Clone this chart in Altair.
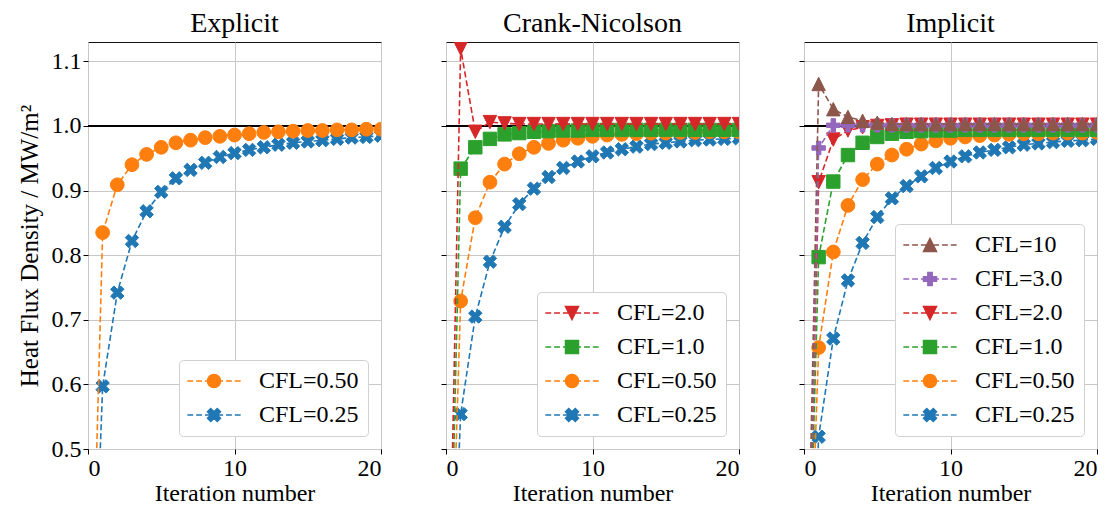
import altair as alt
import pandas as pd

# ---------------- data ----------------
iterations = list(range(21))

explicit_names = ["CFL=0.50", "CFL=0.25"]
exp_cfl050 = [0.0, 0.835, 0.909, 0.940, 0.956, 0.967, 0.974, 0.978, 0.982, 0.984, 0.986,
              0.988, 0.990, 0.991, 0.992, 0.993, 0.993, 0.994, 0.994, 0.995, 0.995]
exp_cfl025 = [0.0, 0.597, 0.742, 0.822, 0.868, 0.898, 0.919, 0.932, 0.943, 0.952, 0.958,
              0.963, 0.967, 0.971, 0.974, 0.976, 0.978, 0.980, 0.982, 0.983, 0.985]

cn_names = ["CFL=2.0", "CFL=1.0", "CFL=0.50", "CFL=0.25"]
cn_cfl20 = [0.0, 1.120, 0.991, 1.006, 1.004, 1.003, 1.003, 1.003, 1.003, 1.003, 1.003,
            1.003, 1.003, 1.003, 1.003, 1.003, 1.003, 1.003, 1.003, 1.003, 1.003]
cn_cfl10 = [0.0, 0.934, 0.967, 0.980, 0.987, 0.989, 0.991, 0.992, 0.993, 0.993, 0.994,
            0.994, 0.994, 0.994, 0.994, 0.994, 0.994, 0.994, 0.994, 0.994, 0.994]
cn_cfl050 = [0.0, 0.729, 0.858, 0.913, 0.941, 0.957, 0.967, 0.973, 0.978, 0.981, 0.984,
             0.986, 0.987, 0.988, 0.989, 0.989, 0.990, 0.990, 0.991, 0.991, 0.991]
cn_cfl025 = [0.0, 0.554, 0.705, 0.790, 0.844, 0.879, 0.903, 0.921, 0.935, 0.945, 0.953,
             0.959, 0.964, 0.968, 0.972, 0.974, 0.976, 0.978, 0.979, 0.980, 0.981]

im_names = ["CFL=10", "CFL=3.0", "CFL=2.0", "CFL=1.0", "CFL=0.50", "CFL=0.25"]
im_cfl100 = [0.0, 1.065, 1.026, 1.014, 1.008, 1.005, 1.003, 1.003, 1.003, 1.003, 1.003,
             1.003, 1.003, 1.003, 1.003, 1.003, 1.003, 1.003, 1.003, 1.003, 1.003]
im_cfl30 = [0.0, 0.966, 1.001, 1.001, 1.001, 1.001, 1.001, 1.001, 1.001, 1.001, 1.001,
            1.001, 1.001, 1.001, 1.001, 1.001, 1.001, 1.001, 1.001, 1.001, 1.001]
im_cfl20 = [0.0, 0.913, 0.979, 0.993, 0.998, 1.000, 1.001, 1.002, 1.002, 1.002, 1.002,
            1.002, 1.002, 1.002, 1.002, 1.002, 1.002, 1.002, 1.002, 1.002, 1.002]
im_cfl10 = [0.0, 0.797, 0.914, 0.955, 0.974, 0.983, 0.988, 0.991, 0.992, 0.993, 0.993,
            0.994, 0.994, 0.994, 0.994, 0.994, 0.994, 0.994, 0.994, 0.994, 0.994]
im_cfl050 = [0.0, 0.657, 0.805, 0.877, 0.917, 0.941, 0.955, 0.964, 0.972, 0.977, 0.981,
             0.983, 0.985, 0.986, 0.987, 0.988, 0.988, 0.989, 0.989, 0.989, 0.990]
im_cfl025 = [0.0, 0.519, 0.671, 0.761, 0.819, 0.859, 0.888, 0.907, 0.922, 0.935, 0.945,
             0.953, 0.959, 0.963, 0.967, 0.971, 0.973, 0.975, 0.977, 0.978, 0.980]

panel_titles = ["Explicit", "Crank-Nicolson", "Implicit"]
reference_level = [1.0]
x_ticks = [0, 10, 20]
y_ticks = [0.5, 0.6, 0.7, 0.8, 0.9, 1.0, 1.1]

# ---------------- styles ----------------
FONT = "Liberation Serif"
colors = {"CFL=10": "#8c564b", "CFL=3.0": "#9467bd", "CFL=2.0": "#d62728",
          "CFL=1.0": "#2ca02c", "CFL=0.50": "#ff7f0e", "CFL=0.25": "#1f77b4"}

markers = {
    "CFL=10": "M0,-1L1,1L-1,1Z",
    "CFL=3.0": "M-0.333,-1L0.333,-1L0.333,-0.333L1,-0.333L1,0.333L0.333,0.333L0.333,1"
               "L-0.333,1L-0.333,0.333L-1,0.333L-1,-0.333L-0.333,-0.333Z",
    "CFL=2.0": "M0,1L1,-1L-1,-1Z",
    "CFL=1.0": "M-1,-1L1,-1L1,1L-1,1Z",
    "CFL=0.50": "circle",
    "CFL=0.25": "M-0.5,-1L0,-0.5L0.5,-1L1,-0.5L0.5,0L1,0.5L0.5,1L0,0.5L-0.5,1L-1,0.5"
                "L-0.5,0L-1,-0.5Z",
}
circle_path = "M1,0A1,1,0,1,1,-1,0A1,1,0,1,1,1,0Z"
dashes = ("M-4.1,0L-3.2,0M-2.75,0L-1.85,0M-1.4,0L-0.6,0"
          "M0.6,0L1.4,0M1.85,0L2.75,0M3.2,0L4.1,0")


def legend_path(name):
    m = markers[name]
    if m == "circle":
        m = circle_path
    return dashes + m


MSIZE = 180
x_scale = alt.Scale(domain=[0, 20], nice=False, zero=False)
y_scale = alt.Scale(domain=[0.5, 1.13], nice=False, zero=False)


def make_panel(title, names, series, first):
    rows = []
    for name, vals in zip(names, series):
        for it, v in zip(iterations, vals):
            rows.append({"iter": it, "val": v, "series": name})
    df = pd.DataFrame(rows)

    x_axis = alt.Axis(values=x_ticks, title="Iteration number")
    y_axis = alt.Axis(values=y_ticks, format=".1f", labels=first,
                      title="Heat Flux Density / MW/m²" if first else None)
    xe = alt.X("iter:Q", scale=x_scale, axis=x_axis)
    ye = alt.Y("val:Q", scale=y_scale, axis=y_axis)

    ref = alt.Chart(pd.DataFrame({"val": reference_level})).mark_rule(
        color="black", strokeWidth=2).encode(y=ye)

    layers = [ref]
    for name in reversed(names):
        sub = alt.Chart(df).transform_filter(alt.datum.series == name)
        layers.append(sub.mark_line(color=colors[name], strokeWidth=1.6,
                                    strokeDash=[6, 3], clip=True).encode(x=xe, y=ye))
        shp = markers[name]
        size = MSIZE if shp != "circle" else 190
        layers.append(sub.mark_point(shape=shp, filled=True, fill=colors[name],
                                     stroke=colors[name], strokeWidth=1, opacity=1,
                                     size=size, clip=True).encode(x=xe, y=ye))

    leg_cols = [colors[n] for n in names]
    leg_paths = [legend_path(n) for n in names]
    legend_layer = alt.Chart(df).transform_filter(alt.datum.iter == 0).mark_point(
        filled=True, opacity=1, clip=True, strokeWidth=1.5).encode(
        x=xe, y=ye,
        shape=alt.Shape("series:N", scale=alt.Scale(domain=names, range=leg_paths), title=None),
        fill=alt.Fill("series:N", scale=alt.Scale(domain=names, range=leg_cols), title=None),
        stroke=alt.Stroke("series:N", scale=alt.Scale(domain=names, range=leg_cols), title=None),
    )
    layers.append(legend_layer)

    return alt.layer(*layers).properties(
        width=293, height=407,
        title=alt.TitleParams(title))


p1 = make_panel(panel_titles[0], explicit_names, [exp_cfl050, exp_cfl025], True)
p2 = make_panel(panel_titles[1], cn_names, [cn_cfl20, cn_cfl10, cn_cfl050, cn_cfl025], False)
p3 = make_panel(panel_titles[2], im_names,
                [im_cfl100, im_cfl30, im_cfl20, im_cfl10, im_cfl050, im_cfl025], False)

chart = alt.hconcat(p1, p2, p3, spacing=65, bounds="flush").resolve_scale(
    shape="independent", fill="independent", stroke="independent"
).resolve_legend(
    shape="independent", fill="independent", stroke="independent"
).properties(
    padding={"left": 8, "top": 1, "right": 0, "bottom": 0}
).configure(font=FONT).configure_view(
    stroke="#111111", strokeWidth=1
).configure_axis(
    grid=True, gridColor="#c8c8c8", gridWidth=1, domain=False,
    tickColor="black", tickSize=5, tickWidth=1,
    labelFont=FONT, labelFontSize=24, labelColor="black", labelPadding=2,
    titleFont=FONT, titleFontSize=24, titleFontWeight="normal", titleColor="black",
    titlePadding=1
).configure_axisY(titlePadding=9, titleFontSize=25).configure_title(
    font=FONT, fontSize=28, fontWeight="normal", color="black", offset=0, anchor="middle"
).configure_legend(
    orient="bottom-right", offset=13, fillColor="white", strokeColor="#d0d0d0",
    cornerRadius=4, padding=9, labelFont=FONT, labelFontSize=24, labelColor="black",
    symbolSize=169, symbolStrokeWidth=1.5, symbolOffset=14, labelOffset=33,
    rowPadding=10, labelLimit=300
)

chart.save("out.html", embed_options={"renderer": "svg", "actions": False})
